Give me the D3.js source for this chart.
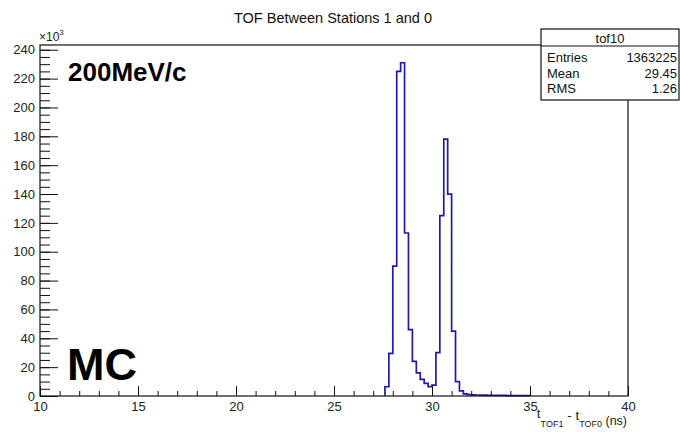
<!DOCTYPE html>
<html>
<head>
<meta charset="utf-8">
<script src="https://cdn.jsdelivr.net/npm/d3@7"></script>
<style>
	body { margin: 0; background: #fff; }
	svg { display: block; font-family: "Liberation Sans", Arial, sans-serif; }
</style>
</head>
<body>
<div id="chart"></div>
<script>
// histogram tof10: low edge of first filled bin, bin width (ns), counts per bin
const binStart = 27.6;
const binWidth = 0.2;
const counts = [
	6400, 29500, 90000, 225000, 231000, 113000, 46000, 24000, 16000, 11500,
	8800, 6500, 7500, 30000, 125000, 178000, 140000, 45000, 10000, 3500,
	1500, 1000, 800, 700, 600, 600, 500, 500, 400, 400,
	400, 300, 300, 300, 300, 200, 200
];
const xMajorTicks = [10, 15, 20, 25, 30, 35, 40];
const xMinorTicks = d3.range(10, 41, 1);
const yMajorTicks = [0, 20000, 40000, 60000, 80000, 100000, 120000, 140000, 160000, 180000, 200000, 220000, 240000];
const yMinorTicks = d3.range(0, 243000, 5000);
const statsRows = [["Entries", "1363225"], ["Mean", "29.45"], ["RMS", "1.26"]];

const width = 680, height = 432;
const margin = {top: 45, right: 52, bottom: 36, left: 40};

const svg = d3.select("#chart").append("svg")
	.attr("width", width)
	.attr("height", height);

const x = d3.scaleLinear()
	.domain([10, 40])
	.range([margin.left, width - margin.right]);

const y = d3.scaleLinear()
	.domain([0, 243300])
	.range([height - margin.bottom, margin.top]);

// title
svg.append("text")
	.attr("x", 333)
	.attr("y", 23)
	.attr("text-anchor", "middle")
	.style("font-size", "14.5px")
	.attr("fill", "#111")
	.text("TOF Between Stations 1 and 0");

// histogram outline
let pts = [[binStart, 0]];
counts.forEach((c, i) => {
	pts.push([binStart + i * binWidth, c]);
	pts.push([binStart + (i + 1) * binWidth, c]);
});
pts.push([binStart + counts.length * binWidth, 0]);

let line = d3.line()
	.x(d => x(d[0]))
	.y(d => y(d[1]));

svg.append("path")
	.datum(pts)
	.attr("fill", "none")
	.attr("stroke", "#1c1caa")
	.attr("stroke-width", 1.7)
	.attr("stroke-linejoin", "miter")
	.attr("d", line);

// axes
let xMinor = g => g
	.attr("transform", `translate(0,${y(0)})`)
	.call(d3.axisBottom(x).tickValues(xMinorTicks).tickSize(-5).tickFormat(""));
let xMajor = g => g
	.attr("transform", `translate(0,${y(0)})`)
	.call(d3.axisBottom(x).tickValues(xMajorTicks).tickSize(-10).tickPadding(5.5));
let yMinor = g => g
	.attr("transform", `translate(${x(10)},0)`)
	.call(d3.axisLeft(y).tickValues(yMinorTicks).tickSize(-10).tickFormat(""));
let yMajor = g => g
	.attr("transform", `translate(${x(10)},0)`)
	.call(d3.axisLeft(y).tickValues(yMajorTicks).tickSize(-18).tickPadding(5)
		.tickFormat(d => d / 1000));

[xMinor, xMajor, yMinor, yMajor].forEach(a => {
	let g = svg.append("g")
		.style("font", "13px 'Liberation Sans', Arial, sans-serif")
		.call(a);
	g.select(".domain").remove();
	g.selectAll("line").attr("stroke", "#111");
	g.selectAll("text").attr("fill", "#222");
});

// frame
svg.append("rect")
	.attr("x", x(10))
	.attr("y", y(243300))
	.attr("width", x(40) - x(10))
	.attr("height", y(0) - y(243300))
	.attr("fill", "none")
	.attr("stroke", "#111")
	.attr("stroke-width", 1.2);

// x10^3 multiplier
let mult = svg.append("text")
	.attr("x", 39)
	.attr("y", 41)
	.style("font-size", "12px")
	.attr("fill", "#222");
mult.append("tspan").text("\u00d710");
mult.append("tspan").attr("dy", -6).style("font-size", "8px").text("3");

// axis title
let xt = svg.append("text")
	.attr("x", 627)
	.attr("y", 418)
	.attr("text-anchor", "end")
	.style("font-size", "13.5px")
	.attr("fill", "#222");
xt.append("tspan").text("t");
xt.append("tspan").attr("dy", 9).style("font-size", "9px").text("TOF1");
xt.append("tspan").attr("dy", -7).text(" - t");
xt.append("tspan").attr("dy", 7).style("font-size", "9px").text("TOF0");
xt.append("tspan").attr("dy", -2).style("font-size", "12.5px").text(" (ns)");

// stats box
const box = {x0: 541, y0: 29, x1: 679, y1: 100, yh: 46};
svg.append("rect")
	.attr("x", box.x0)
	.attr("y", box.y0)
	.attr("width", box.x1 - box.x0)
	.attr("height", box.y1 - box.y0)
	.attr("fill", "#fff")
	.attr("stroke", "#111")
	.attr("stroke-width", 1.2);
svg.append("line")
	.attr("x1", box.x0).attr("x2", box.x1)
	.attr("y1", box.yh).attr("y2", box.yh)
	.attr("stroke", "#111")
	.attr("stroke-width", 1.2);
svg.append("text")
	.attr("x", (box.x0 + box.x1) / 2)
	.attr("y", 42.5)
	.attr("text-anchor", "middle")
	.style("font-size", "13px")
	.attr("fill", "#111")
	.text("tof10");
statsRows.forEach((r, i) => {
	svg.append("text")
		.attr("x", 547)
		.attr("y", 62 + i * 15.7)
		.style("font-size", "13px")
		.attr("fill", "#111")
		.text(r[0]);
	svg.append("text")
		.attr("x", 677)
		.attr("y", 62 + i * 15.7)
		.attr("text-anchor", "end")
		.style("font-size", "13px")
		.attr("fill", "#111")
		.text(r[1]);
});

// annotations
svg.append("text")
	.attr("x", 68)
	.attr("y", 81)
	.style("font-size", "26px")
	.style("font-weight", "bold")
	.attr("fill", "#000")
	.text("200MeV/c");

svg.append("text")
	.attr("x", 67)
	.attr("y", 380)
	.style("font-size", "45px")
	.style("font-weight", "bold")
	.attr("fill", "#000")
	.text("MC");
</script>
</body>
</html>
